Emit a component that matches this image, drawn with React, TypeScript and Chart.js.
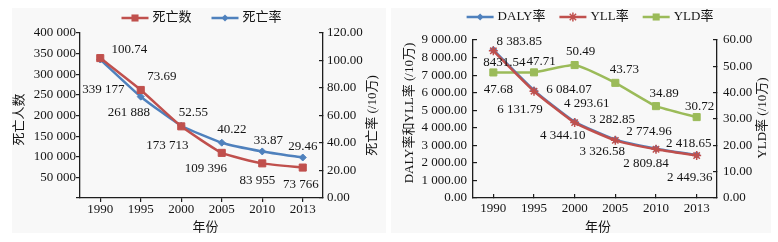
import React, { useEffect, useRef } from 'react';
import { Chart, registerables } from 'chart.js';

Chart.register(...registerables);

// ---------- data ----------
const years = ['1990', '1995', '2000', '2005', '2010', '2013'];
const deaths = [339177, 261888, 173713, 109396, 83955, 73766];
const deathRate = [100.74, 73.69, 52.55, 40.22, 33.87, 29.46];
const dalyRate = [8431.54, 6131.79, 4344.1, 3326.58, 2809.84, 2449.36];
const yllRate = [8383.85, 6084.07, 4293.61, 3282.85, 2774.96, 2418.65];
const yldRate = [47.68, 47.71, 50.49, 43.73, 34.89, 30.72];

// ---------- label placement (style) ----------
const deathsLabelOffset = [[3, 31], [-12, 23], [-14, 19], [-16, 16], [-5, 17], [-2, 17]];
const deathRateLabelOffset = [[29, -10], [21, -20], [12, -13], [10, -13], [6, -11], [0, -11]];
const dalyLabelOffset = [[11, 13], [-14, 19], [-12, 14], [-13, 12], [-10, 15], [-7, 23]];
const yllLabelOffset = [[26, -9], [35, -2], [12, -19], [-3, -21], [-7, -18], [-8, -12]];
const yldLabelOffset = [[5, 17], [7, -11], [6, -13], [9, -13], [8, -13], [3, -11]];

const RED = '#C0504D';
const BLUE = '#4F81BD';
const GREEN = '#9BBB59';
const TEXT = '#141414';
const AXIS = '#1e1e1e';
const FAMILY = '"Liberation Serif", "Noto Sans CJK SC", serif';
const FONT = `13px ${FAMILY}`;

function fmt(v: number, d: number): string {
  const s = v.toFixed(d);
  const [i, f] = s.split('.');
  const ii = i.replace(/\B(?=(\d{3})+(?!\d))/g, ' ');
  return f ? ii + '.' + f : ii;
}

function drawMarker(ctx: CanvasRenderingContext2D, style: string, x: number, y: number, r: number, color: string) {
  ctx.save();
  ctx.fillStyle = color;
  ctx.strokeStyle = color;
  if (style === 'rect') {
    const s = r * Math.SQRT1_2;
    ctx.fillRect(x - s, y - s, 2 * s, 2 * s);
  } else if (style === 'rectRot') {
    ctx.beginPath();
    ctx.moveTo(x, y - r);
    ctx.lineTo(x + r, y);
    ctx.lineTo(x, y + r);
    ctx.lineTo(x - r, y);
    ctx.closePath();
    ctx.fill();
  } else if (style === 'star') {
    ctx.lineWidth = 1.5;
    ctx.beginPath();
    for (let k = 0; k < 4; k++) {
      const a = (k * Math.PI) / 4;
      ctx.moveTo(x + Math.cos(a) * r, y + Math.sin(a) * r);
      ctx.lineTo(x - Math.cos(a) * r, y - Math.sin(a) * r);
    }
    ctx.stroke();
  }
  ctx.restore();
}

const pointLabels = {
  id: 'pointLabels',
  afterDatasetsDraw(chart: any) {
    const ctx = chart.ctx;
    ctx.save();
    ctx.font = FONT;
    ctx.fillStyle = TEXT;
    ctx.textAlign = 'center';
    ctx.textBaseline = 'middle';
    chart.data.datasets.forEach((ds: any, di: number) => {
      const meta = chart.getDatasetMeta(di);
      meta.data.forEach((pt: any, i: number) => {
        const text = ds.labelTexts ? ds.labelTexts[i] : fmt(ds.data[i], ds.labelDecimals);
        const [dx, dy] = ds.labelOffsets[i];
        ctx.fillText(text, pt.x + dx, pt.y + dy);
      });
    });
    ctx.restore();
  },
};

const lineLegend = {
  id: 'lineLegend',
  afterDraw(chart: any, _a: any, opts: any) {
    const { ctx, chartArea } = chart;
    ctx.save();
    ctx.font = FONT;
    const lineLen = 27;
    const gap = 4;
    const spacing = opts.spacing ?? 20;
    const items = chart.data.datasets.map((ds: any) => ({ ds, w: ctx.measureText(ds.label).width }));
    const total = items.reduce((s: number, it: any) => s + lineLen + gap + it.w, 0) + spacing * (items.length - 1);
    let x = (chartArea.left + chartArea.right) / 2 - total / 2 + (opts.dx || 0);
    const y = opts.y;
    items.forEach(({ ds, w }: any) => {
      ctx.strokeStyle = ds.borderColor;
      ctx.lineWidth = ds.borderWidth;
      ctx.beginPath();
      ctx.moveTo(x, y);
      ctx.lineTo(x + lineLen, y);
      ctx.stroke();
      drawMarker(ctx, ds.pointStyle, x + lineLen / 2, y, ds.pointRadius, ds.borderColor);
      ctx.fillStyle = TEXT;
      ctx.textAlign = 'left';
      ctx.textBaseline = 'middle';
      ctx.fillText(ds.label, x + lineLen + gap, y);
      x += lineLen + gap + w + spacing;
    });
    ctx.restore();
  },
};

const axisTitles = {
  id: 'axisTitles',
  afterDraw(chart: any, _a: any, opts: any) {
    const { ctx, chartArea, scales } = chart;
    ctx.save();
    ctx.font = FONT;
    ctx.fillStyle = TEXT;
    ctx.textAlign = 'center';
    ctx.textBaseline = 'middle';
    for (const t of opts.items) {
      const s = scales[t.scale];
      if (s.isHorizontal()) {
        ctx.fillText(t.text, (chartArea.left + chartArea.right) / 2 + (t.dx || 0), s.bottom - t.offset);
      } else {
        const x = s.options.position === 'left' ? s.left + t.offset : s.right - t.offset;
        ctx.save();
        ctx.translate(x, (chartArea.top + chartArea.bottom) / 2 + (t.dy || 0));
        ctx.rotate(-Math.PI / 2);
        ctx.fillText(t.text, 0, 0);
        ctx.restore();
      }
    }
    ctx.restore();
  },
};

const tickFont = { family: FAMILY, size: 13 };

function axis(extra: any, width: number | null, height: number | null, tickLength: number, padding: number) {
  return {
    ...extra,
    grid: { drawOnChartArea: false, drawTicks: true, tickLength, color: AXIS, lineWidth: 1.2 },
    border: { display: true, color: AXIS, width: 1.3 },
    ticks: { ...(extra.ticks || {}), color: TEXT, font: tickFont, padding, autoSkip: false, maxRotation: 0 },
    afterFit: (s: any) => {
      if (width != null) s.width = width;
      if (height != null) s.height = height;
    },
  };
}

function lineDs(label: string, data: number[], color: string, style: string, r: number, axisId: string, offsets: number[][], decimals: number, order: number, labelTexts?: string[]) {
  return {
    label,
    data,
    yAxisID: axisId,
    borderColor: color,
    backgroundColor: color,
    pointBackgroundColor: color,
    pointBorderColor: color,
    borderWidth: 2.5,
    pointStyle: style,
    pointRadius: r,
    pointBorderWidth: style === 'star' ? 1.5 : 1,
    tension: 0.15,
    labelOffsets: offsets,
    labelDecimals: decimals,
    labelTexts,
    order,
  };
}

function leftConfig(): any {
  return {
    type: 'line',
    data: {
      labels: years,
      datasets: [
        lineDs('死亡数', deaths, RED, 'rect', 5, 'y', deathsLabelOffset, 0, 0),
        lineDs('死亡率', deathRate, BLUE, 'rectRot', 3.5, 'y1', deathRateLabelOffset, 2, 1),
      ],
    },
    options: {
      responsive: false,
      animation: false,
      layout: { padding: { top: 33, left: 0, right: 0, bottom: 0 } },
      plugins: {
        legend: { display: false },
        tooltip: { enabled: false },
        lineLegend: { y: 18, spacing: 20 },
        axisTitles: {
          items: [
            { scale: 'y', text: '死亡人数', offset: 20, dy: 4 },
            { scale: 'y1', text: '死亡率 (/10万)', offset: 17, dy: 0 },
            { scale: 'x', text: '年份', offset: 14, dx: 4 },
          ],
        },
      },
      scales: {
        x: axis({ offset: true }, null, 44, 4, 0),
        y: axis({ position: 'left', min: 0, max: 400000, ticks: { stepSize: 50000, callback: (v: number) => (v === 0 ? '' : fmt(v, 0)) } }, 80, null, 4, 0),
        y1: axis({ position: 'right', min: 0, max: 120, ticks: { stepSize: 20, callback: (v: number) => fmt(v, 2) } }, 67, null, -4, 8),
      },
    },
    plugins: [pointLabels, lineLegend, axisTitles],
  };
}

function rightConfig(): any {
  const dalyTexts = dalyRate.map((v, i) => (i === 0 ? v.toFixed(2) : fmt(v, 2)));
  return {
    type: 'line',
    data: {
      labels: years,
      datasets: [
        lineDs('DALY率', dalyRate, BLUE, 'rectRot', 3.5, 'y', dalyLabelOffset, 2, 1, dalyTexts),
        lineDs('YLL率', yllRate, RED, 'star', 4.5, 'y', yllLabelOffset, 2, 0),
        lineDs('YLD率', yldRate, GREEN, 'rect', 5, 'y1', yldLabelOffset, 2, 2),
      ],
    },
    options: {
      responsive: false,
      animation: false,
      layout: { padding: { top: 40, left: 0, right: 0, bottom: 0 } },
      plugins: {
        legend: { display: false },
        tooltip: { enabled: false },
        lineLegend: { y: 17, spacing: 14, dx: -5 },
        axisTitles: {
          items: [
            { scale: 'y', text: 'DALY率和YLL率 (/10万)', offset: 20, dy: -6 },
            { scale: 'y1', text: 'YLD率 (/10万)', offset: 15, dy: -1 },
            { scale: 'x', text: '年份', offset: 14, dx: 3 },
          ],
        },
      },
      scales: {
        x: axis({ offset: true }, null, 44, -4, 7),
        y: axis({ position: 'left', min: 0, max: 9000, ticks: { stepSize: 1000, callback: (v: number) => fmt(v, 2) } }, 83, null, -4, 10),
        y1: axis({ position: 'right', min: 0, max: 60, ticks: { stepSize: 10, callback: (v: number) => fmt(v, 2) } }, 61, null, -4, 10),
      },
    },
    plugins: [pointLabels, lineLegend, axisTitles],
  };
}

function Panel({ make, left, width }: { make: () => any; left: number; width: number }) {
  const ref = useRef<HTMLCanvasElement | null>(null);
  useEffect(() => {
    const chart = new Chart(ref.current as HTMLCanvasElement, make());
    return () => chart.destroy();
  }, []);
  return (
    <canvas
      ref={ref}
      width={width}
      height={242}
      style={{ position: 'absolute', left, top: 0, width, height: 242 }}
    />
  );
}

export default function App() {
  return (
    <div style={{ position: 'fixed', left: 0, top: 0, width: 778, height: 242, background: '#ffffff', overflow: 'hidden' }}>
      <div style={{ position: 'absolute', left: 12, top: 8, width: 374, height: 225, background: '#f8f8f8' }} />
      <div style={{ position: 'absolute', left: 391, top: 8, width: 380, height: 225, background: '#f8f8f8' }} />
      <Panel make={leftConfig} left={0} width={390} />
      <Panel make={rightConfig} left={390} width={388} />
    </div>
  );
}
